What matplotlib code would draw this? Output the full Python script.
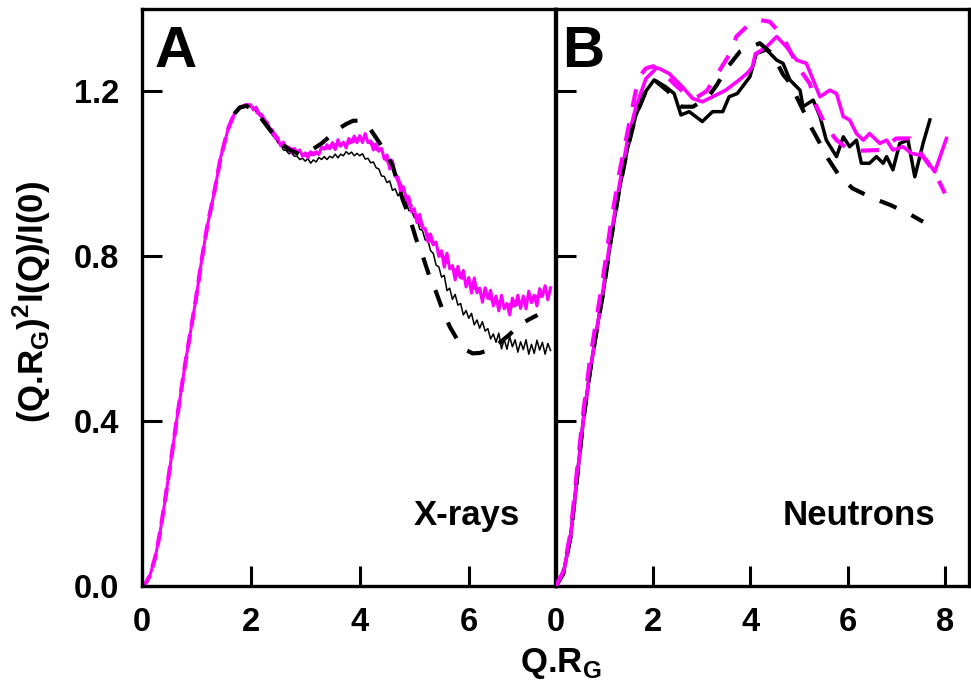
import matplotlib
matplotlib.use("Agg")
import matplotlib.pyplot as plt

plt.rcParams["font.family"] = ["Liberation Sans", "DejaVu Sans"]
plt.rcParams["font.weight"] = "bold"
plt.rcParams["lines.scale_dashes"] = False

MAGENTA = "#ff00ff"

# ---------------------------------------------------------------------------
# Panel A (X-rays): Kratky-style curves
# ---------------------------------------------------------------------------

# rising part shared by the A curves
RISE_A_Q = [0.0, 0.08, 0.15, 0.25, 0.335, 0.42, 0.52, 0.64, 0.8, 1.0,
            1.1, 1.2, 1.34, 1.45, 1.59, 1.7, 1.8, 1.92]
RISE_A_Y = [0.0, 0.008, 0.025, 0.07, 0.128, 0.2, 0.289, 0.4, 0.54, 0.70,
            0.79, 0.87, 0.96, 1.04, 1.11, 1.145, 1.16, 1.166]

# noisy experimental traces, sampled every 0.05 from Q.Rg = 2
QA_FINE = [2.00, 2.05, 2.10, 2.15, 2.20, 2.25, 2.30, 2.35, 2.40, 2.45,
           2.50, 2.55, 2.60, 2.65, 2.70, 2.75, 2.80, 2.85, 2.90, 2.95,
           3.00, 3.05, 3.10, 3.15, 3.20, 3.25, 3.30, 3.35, 3.40, 3.45,
           3.50, 3.55, 3.60, 3.65, 3.70, 3.75, 3.80, 3.85, 3.90, 3.95,
           4.00, 4.05, 4.10, 4.15, 4.20, 4.25, 4.30, 4.35, 4.40, 4.45,
           4.50, 4.55, 4.60, 4.65, 4.70, 4.75, 4.80, 4.85, 4.90, 4.95,
           5.00, 5.05, 5.10, 5.15, 5.20, 5.25, 5.30, 5.35, 5.40, 5.45,
           5.50, 5.55, 5.60, 5.65, 5.70, 5.75, 5.80, 5.85, 5.90, 5.95,
           6.00, 6.05, 6.10, 6.15, 6.20, 6.25, 6.30, 6.35, 6.40, 6.45,
           6.50, 6.55, 6.60, 6.65, 6.70, 6.75, 6.80, 6.85, 6.90, 6.95,
           7.00, 7.05, 7.10, 7.15, 7.20, 7.25, 7.30, 7.35, 7.40, 7.45,
           7.50]

XRAY_MAG_Y = [1.167, 1.154, 1.161, 1.146, 1.142, 1.124, 1.125, 1.109, 1.105, 1.086,
              1.085, 1.067, 1.076, 1.061, 1.062, 1.050, 1.061, 1.051, 1.057, 1.042,
              1.050, 1.038, 1.053, 1.045, 1.052, 1.046, 1.064, 1.059, 1.070, 1.060,
              1.075, 1.058, 1.082, 1.066, 1.076, 1.062, 1.085, 1.076, 1.091, 1.075,
              1.092, 1.075, 1.097, 1.075, 1.079, 1.057, 1.072, 1.054, 1.061, 1.035,
              1.045, 1.011, 1.031, 0.994, 0.990, 0.954, 0.968, 0.940, 0.944, 0.907,
              0.915, 0.881, 0.901, 0.868, 0.867, 0.835, 0.853, 0.827, 0.834, 0.799,
              0.813, 0.773, 0.807, 0.769, 0.777, 0.742, 0.775, 0.747, 0.765, 0.725,
              0.748, 0.710, 0.747, 0.711, 0.722, 0.688, 0.723, 0.697, 0.717, 0.679,
              0.703, 0.667, 0.705, 0.672, 0.685, 0.657, 0.698, 0.679, 0.705, 0.673,
              0.703, 0.672, 0.715, 0.687, 0.705, 0.679, 0.721, 0.702, 0.728, 0.694,
              0.723]

XRAY_BLK_Y = [1.161, 1.161, 1.150, 1.145, 1.133, 1.128, 1.114, 1.107, 1.092, 1.087,
              1.074, 1.071, 1.057, 1.056, 1.048, 1.050, 1.042, 1.042, 1.034, 1.037,
              1.030, 1.036, 1.025, 1.033, 1.028, 1.039, 1.034, 1.041, 1.034, 1.042,
              1.038, 1.047, 1.038, 1.047, 1.043, 1.053, 1.047, 1.052, 1.043, 1.049,
              1.043, 1.048, 1.035, 1.037, 1.026, 1.028, 1.014, 1.011, 0.994, 0.993,
              0.978, 0.982, 0.959, 0.963, 0.946, 0.952, 0.933, 0.932, 0.910, 0.911,
              0.893, 0.892, 0.865, 0.862, 0.839, 0.838, 0.813, 0.806, 0.778, 0.774,
              0.749, 0.753, 0.716, 0.722, 0.695, 0.707, 0.681, 0.685, 0.657, 0.668,
              0.649, 0.661, 0.633, 0.645, 0.625, 0.641, 0.618, 0.624, 0.599, 0.611,
              0.591, 0.613, 0.575, 0.598, 0.574, 0.605, 0.580, 0.597, 0.567, 0.592,
              0.573, 0.597, 0.562, 0.586, 0.564, 0.596, 0.572, 0.591, 0.562, 0.588,
              0.571]

# model curves (dashed)
XRAY_BLK_FIT_Q = [1.7, 1.8, 1.92, 2.1, 2.3, 2.5, 2.7, 2.9, 3.02, 3.15,
                  3.3, 3.45, 3.57, 3.75, 3.88, 4.0, 4.18, 4.36, 4.5, 4.6,
                  4.7, 4.79, 4.91, 5.04, 5.16, 5.28, 5.4, 5.52, 5.65, 5.83,
                  5.95, 6.07, 6.2, 6.38, 6.56, 6.75, 6.93, 7.1, 7.26]
XRAY_BLK_FIT_Y = [1.145, 1.16, 1.164, 1.15, 1.115, 1.08, 1.058, 1.046, 1.05, 1.06,
                  1.073, 1.09, 1.105, 1.12, 1.128, 1.128, 1.11, 1.075, 1.045, 1.02,
                  0.975, 0.936, 0.895, 0.839, 0.798, 0.75, 0.713, 0.669, 0.629, 0.588,
                  0.572, 0.564, 0.565, 0.572, 0.589, 0.61, 0.633, 0.646, 0.657]

XRAY_MAG_FIT_Q = [2.0, 2.2, 2.4, 2.6, 2.8, 3.0, 3.2, 3.4, 3.6, 3.8,
                  4.0, 4.2, 4.4, 4.6, 4.8, 5.0, 5.2, 5.4, 5.6, 5.8,
                  6.0, 6.2, 6.4, 6.6, 6.8, 7.0, 7.2, 7.4, 7.5]
XRAY_MAG_FIT_Y = [1.163, 1.140, 1.100, 1.068, 1.055, 1.045, 1.050, 1.063, 1.070, 1.075,
                  1.085, 1.075, 1.050, 1.015, 0.955, 0.905, 0.862, 0.820, 0.785, 0.757,
                  0.735, 0.715, 0.697, 0.683, 0.680, 0.690, 0.698, 0.708, 0.710]

# ---------------------------------------------------------------------------
# Panel B (Neutrons)
# ---------------------------------------------------------------------------

NEU_BLK_Q = [0.0, 0.15, 0.3, 0.45, 0.56, 0.7, 0.85, 0.97, 1.13, 1.3,
             1.47, 1.64, 1.85, 2.02, 2.26, 2.43, 2.57, 2.74, 3.01, 3.22,
             3.43, 3.56, 3.73, 3.99, 4.12, 4.33, 4.54, 4.67, 4.81, 5.02,
             5.08, 5.29, 5.43, 5.56, 5.77, 5.91, 6.04, 6.18, 6.28, 6.45,
             6.59, 6.73, 6.80, 6.93, 7.07, 7.24, 7.38, 7.55, 7.69]
NEU_BLK_Y = [0.0, 0.03, 0.12, 0.28, 0.40, 0.52, 0.63, 0.71, 0.84, 0.96,
             1.06, 1.14, 1.20, 1.227, 1.21, 1.194, 1.142, 1.15, 1.126, 1.15,
             1.15, 1.186, 1.194, 1.235, 1.291, 1.30, 1.275, 1.267, 1.227, 1.202,
             1.162, 1.178, 1.138, 1.081, 1.041, 1.089, 1.065, 1.081, 1.025, 1.025,
             1.041, 1.025, 1.041, 1.009, 1.073, 1.081, 0.992, 1.073, 1.13]

NEU_MAG_Q = [0.0, 0.15, 0.3, 0.45, 0.56, 0.7, 0.85, 0.97, 1.13, 1.3,
             1.47, 1.64, 1.85, 2.06, 2.12, 2.33, 2.6, 2.81, 3.01, 3.22,
             3.49, 3.77, 3.95, 4.04, 4.1, 4.33, 4.54, 4.74, 4.95, 5.15,
             5.29, 5.43, 5.63, 5.77, 5.91, 6.04, 6.18, 6.32, 6.45, 6.66,
             6.8, 6.93, 7.14, 7.31, 7.48, 7.62, 7.79, 8.03]
NEU_MAG_Y = [0.0, 0.03, 0.12, 0.28, 0.40, 0.52, 0.63, 0.72, 0.85, 0.97,
             1.08, 1.16, 1.23, 1.255, 1.255, 1.242, 1.21, 1.182, 1.174, 1.186,
             1.202, 1.227, 1.245, 1.259, 1.29, 1.307, 1.332, 1.307, 1.275, 1.267,
             1.227, 1.186, 1.202, 1.194, 1.138, 1.13, 1.097, 1.081, 1.097, 1.073,
             1.081, 1.057, 1.065, 1.049, 1.045, 1.033, 1.004, 1.085]

NEU_BLK_FIT_Q = [0.0, 0.15, 0.3, 0.45, 0.56, 0.7, 0.85, 0.97, 1.13, 1.3,
                 1.47, 1.64, 1.85, 2.02, 2.3, 2.58, 2.82, 3.13, 3.31, 3.51,
                 3.78, 4.19, 4.45, 4.67, 4.81, 5.08, 5.22, 5.43, 5.59, 5.84,
                 6.1, 6.52, 6.87, 7.24, 7.55]
NEU_BLK_FIT_Y = [0.0, 0.03, 0.12, 0.28, 0.40, 0.52, 0.63, 0.71, 0.84, 0.96,
                 1.06, 1.14, 1.20, 1.227, 1.2, 1.162, 1.162, 1.186, 1.215, 1.255,
                 1.295, 1.316, 1.29, 1.24, 1.22, 1.154, 1.118, 1.073, 1.037, 0.992,
                 0.964, 0.94, 0.924, 0.904, 0.883]

NEU_MAG_FIT_Q = [0.0, 0.15, 0.3, 0.45, 0.56, 0.7, 0.85, 0.97, 1.13, 1.3,
                 1.47, 1.64, 1.75, 1.85, 2.0, 2.2, 2.45, 2.7, 2.9, 3.1,
                 3.37, 3.58, 3.71, 3.99, 4.2, 4.4, 4.67, 4.8, 5.0, 5.22,
                 5.36, 5.56, 5.77, 6.0, 6.18, 6.66, 7.0, 7.28, 7.5, 7.8, 8.0]
NEU_MAG_FIT_Y = [0.0, 0.035, 0.13, 0.30, 0.42, 0.55, 0.66, 0.75, 0.88, 1.0,
                 1.1, 1.2, 1.24, 1.255, 1.26, 1.245, 1.215, 1.19, 1.185, 1.2,
                 1.251, 1.291, 1.332, 1.364, 1.372, 1.368, 1.332, 1.30, 1.255, 1.218,
                 1.162, 1.113, 1.081, 1.06, 1.055, 1.057, 1.085, 1.085, 1.05, 1.0, 0.952]

Y_TICKS = [0.0, 0.4, 0.8, 1.2]
XA_TICKS = [0, 2, 4, 6]
XB_TICKS = [0, 2, 4, 6, 8]

# ---------------------------------------------------------------------------
# Figure
# ---------------------------------------------------------------------------

fig = plt.figure(figsize=(9.71, 6.83), dpi=100)
axA = fig.add_axes([0.1459, 0.1420, 0.4256, 0.8455])
axB = fig.add_axes([0.5726, 0.1420, 0.4256, 0.8455])

DASH = (0, (13, 12))

# A: magenta model sits under the noisy magenta data, black model on top
axA.plot(RISE_A_Q + QA_FINE, RISE_A_Y + XRAY_BLK_Y, color="black", lw=1.1, zorder=1)
axA.plot(RISE_A_Q + XRAY_MAG_FIT_Q, RISE_A_Y + XRAY_MAG_FIT_Y, color=MAGENTA, lw=3.0,
         linestyle=(0, (10, 6)), zorder=1.5)
axA.plot(RISE_A_Q + QA_FINE, RISE_A_Y + XRAY_MAG_Y, color=MAGENTA, lw=2.2, zorder=2)
axA.plot(XRAY_BLK_FIT_Q, XRAY_BLK_FIT_Y, color="black", lw=3.0,
         linestyle=DASH, zorder=3)

axB.plot(NEU_BLK_Q, NEU_BLK_Y, color="black", lw=2.5, zorder=1)
axB.plot(NEU_MAG_Q, NEU_MAG_Y, color=MAGENTA, lw=2.6, zorder=2)
axB.plot(NEU_BLK_FIT_Q, NEU_BLK_FIT_Y, color="black", lw=3.0, linestyle=DASH, zorder=3)
axB.plot(NEU_MAG_FIT_Q, NEU_MAG_FIT_Y, color=MAGENTA, lw=3.0, linestyle=DASH, zorder=4)

for ax, xmax, xt in [(axA, 7.58, XA_TICKS), (axB, 8.5, XB_TICKS)]:
    ax.set_xlim(0, xmax)
    ax.set_ylim(0, 1.4)
    ax.set_xticks(xt)
    ax.set_yticks(Y_TICKS)
    for s in ax.spines.values():
        s.set_linewidth(2.4)
    ax.tick_params(direction="in", length=14.5, width=2.2, labelsize=23.5,
                   top=False, right=False)
    ax.tick_params(axis="x", pad=15)
    ax.tick_params(axis="y", pad=16)

axA.set_yticklabels([f"{v:.1f}" for v in Y_TICKS])
axB.set_yticklabels([])

axA.text(0.032, 0.899, "A", transform=axA.transAxes, fontsize=42,
         fontweight="bold", ha="left", va="baseline")
axB.text(0.016, 0.899, "B", transform=axB.transAxes, fontsize=42,
         fontweight="bold", ha="left", va="baseline")
axA.text(0.915, 0.106, "X-rays", transform=axA.transAxes, fontsize=25,
         fontweight="bold", ha="right", va="baseline")
axB.text(0.917, 0.106, "Neutrons", transform=axB.transAxes, fontsize=25,
         fontweight="bold", ha="right", va="baseline")

fig.text(0.033, 0.558, r"(Q.R$_\mathregular{G}$)$^\mathregular{2}$I(Q)/I(0)",
         rotation=90, ha="center", va="center", fontsize=25, fontweight="bold")
fig.text(0.577, 0.016, r"Q.R$_\mathregular{G}$", ha="center", va="baseline",
         fontsize=25, fontweight="bold")

fig.savefig("out.png", dpi=100)
